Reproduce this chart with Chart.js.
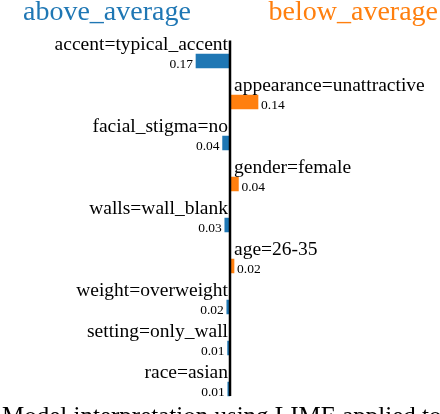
<!DOCTYPE html>
<html>
<head>
<meta charset="utf-8">
<script src="https://cdn.jsdelivr.net/npm/chart.js@4/dist/chart.umd.min.js"></script>
<style>
  html, body { margin: 0; padding: 0; background: #fff; }
  #wrap { position: relative; width: 440px; height: 414px; overflow: hidden; }
  canvas { display: block; }
</style>
</head>
<body>
<div id="wrap"><canvas id="grafico" width="440" height="414"></canvas></div>
<script>
// LIME weights, negative = pushes towards above_average
const features = [
  "accent=typical_accent",
  "appearance=unattractive",
  "facial_stigma=no",
  "gender=female",
  "walls=wall_blank",
  "age=26-35",
  "weight=overweight",
  "setting=only_wall",
  "race=asian"
];
const weights = [-0.17, 0.14, -0.037, 0.042, -0.026, 0.02, -0.016, -0.012, -0.011];
const classNames = ["above_average", "below_average"];
const caption = "Model interpretation using LIME applied to";

const BLUE = "#1f77b4";
const ORANGE = "#ff7f0e";
const SERIF = '"Liberation Serif", "Times New Roman", serif';

const etiquetasPlugin = {
  id: "etiquetas",
  afterDatasetsDraw(chart) {
    const ctx = chart.ctx;
    const xs = chart.scales.x;
    const ys = chart.scales.y;
    const x0 = xs.getPixelForValue(0);
    const area = chart.chartArea;

    ctx.save();
    // eje vertical en cero
    const lastY = ys.getPixelForValue(features.length - 1) + 7;
    ctx.strokeStyle = "#000";
    ctx.lineWidth = 2.5;
    ctx.beginPath();
    ctx.moveTo(x0, area.top);
    ctx.lineTo(x0, lastY);
    ctx.stroke();

    ctx.fillStyle = "#000";
    features.forEach((f, i) => {
      const w = weights[i];
      const yc = ys.getPixelForValue(i);
      const xe = xs.getPixelForValue(w);

      ctx.font = "19.5px " + SERIF;
      ctx.textBaseline = "alphabetic";
      if (w < 0) {
        ctx.textAlign = "right";
        ctx.fillText(f, x0 - 2, yc - 11.5);
      } else {
        ctx.textAlign = "left";
        ctx.fillText(f, x0 + 4, yc - 11.5);
      }

      ctx.font = "13.5px " + SERIF;
      const txt = Math.abs(w).toFixed(2);
      if (w < 0) {
        ctx.textAlign = "right";
        ctx.fillText(txt, xe - 3, yc + 6.5);
      } else {
        ctx.textAlign = "left";
        ctx.fillText(txt, xe + 3, yc + 6.5);
      }
    });

    // titulos de clase
    ctx.font = "28px " + SERIF;
    ctx.textAlign = "left";
    ctx.fillStyle = BLUE;
    ctx.fillText(classNames[0], 23, 20);
    ctx.textAlign = "right";
    ctx.fillStyle = ORANGE;
    ctx.fillText(classNames[1], 438, 20);

    // pie de figura (cortado)
    ctx.font = "25px " + SERIF;
    ctx.textAlign = "left";
    ctx.fillStyle = "#000";
    ctx.fillText(caption, 2, 424);
    ctx.restore();
  }
};

new Chart(document.getElementById("grafico"), {
  type: "bar",
  data: {
    labels: features,
    datasets: [{
      data: weights,
      backgroundColor: weights.map(w => (w < 0 ? BLUE : ORANGE)),
      borderWidth: 0,
      barThickness: 14
    }]
  },
  options: {
    indexAxis: "y",
    responsive: false,
    animation: false,
    layout: { padding: { top: 40.5, bottom: 4.5, left: 0, right: 0 } },
    scales: {
      x: { type: "linear", min: -1.15, max: 1.05, display: false },
      y: { display: false }
    },
    plugins: {
      legend: { display: false },
      tooltip: { enabled: false }
    }
  },
  plugins: [etiquetasPlugin]
});
</script>
</body>
</html>
